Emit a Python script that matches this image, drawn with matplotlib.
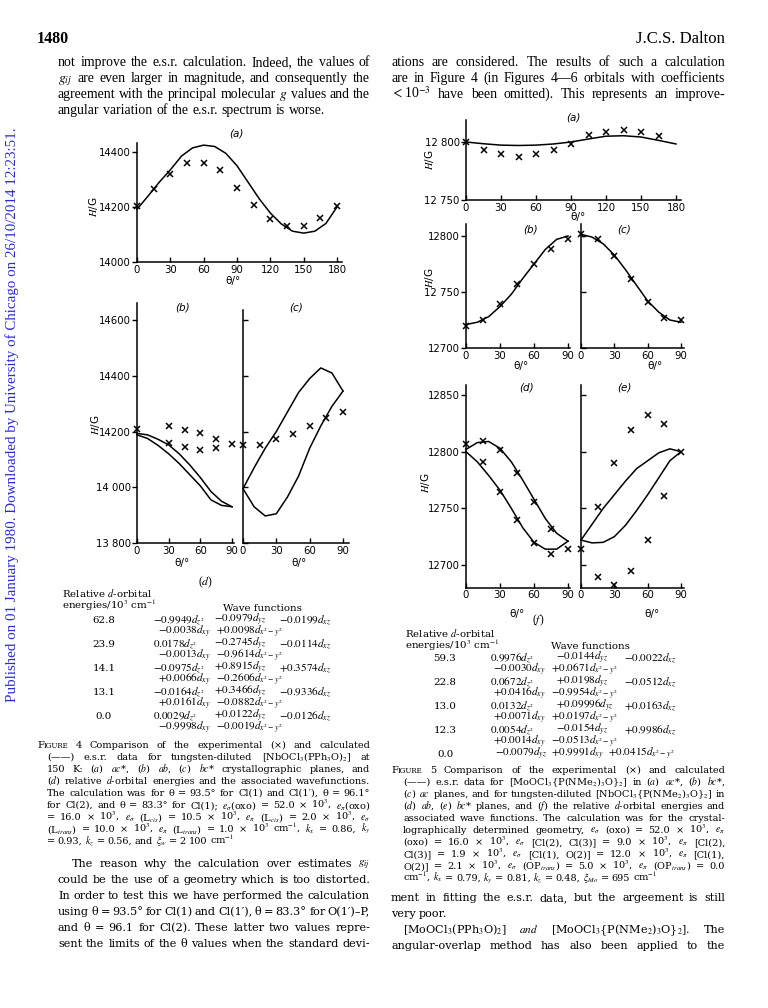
import matplotlib
matplotlib.use("Agg")
import matplotlib.pyplot as plt

W, H = 768, 1008
plt.rcParams['mathtext.fontset'] = 'stix'
SERIF = 'Liberation Serif'
SERIF2 = 'DejaVu Serif'
SANS = 'DejaVu Sans'

# ---------------- data ----------------
# Figure 4 (a)
theta_4a_exp = [0, 15, 30, 45, 60, 75, 90, 105, 120, 135, 150, 165, 180]
H_4a_exp = [14202, 14264, 14320, 14359, 14361, 14333, 14270, 14208, 14157, 14130, 14130, 14160, 14205]
theta_4a_calc = [0, 10, 20, 30, 40, 50, 60, 70, 80, 90, 100, 110, 120, 130, 140, 150, 160, 170, 180]
H_4a_calc = [14192, 14240, 14290, 14335, 14385, 14415, 14425, 14420, 14395, 14350, 14290, 14230, 14178,
             14138, 14112, 14105, 14112, 14140, 14200]
# Figure 4 (b)
theta_4b_exp = [0, 30, 30, 45, 45, 60, 60, 75, 75, 90]
H_4b_exp = [14210, 14218, 14159, 14206, 14146, 14194, 14135, 14172, 14142, 14155]
theta_4b_calc = [0, 10, 20, 30, 40, 50, 60, 70, 80, 90]
H_4b_calc1 = [14193, 14188, 14172, 14152, 14120, 14080, 14035, 13985, 13950, 13930]
H_4b_calc2 = [14188, 14175, 14150, 14120, 14085, 14045, 14005, 13955, 13935, 13930]
# Figure 4 (c)
theta_4c_exp = [0, 15, 30, 45, 60, 75, 90]
H_4c_exp = [14153, 14153, 14174, 14192, 14218, 14249, 14271]
theta_4c_calc = [0, 10, 20, 30, 40, 50, 60, 70, 80, 90]
H_4c_calc1 = [13995, 14070, 14140, 14200, 14270, 14340, 14390, 14428, 14410, 14345]
H_4c_calc2 = [13995, 13930, 13897, 13905, 13965, 14040, 14140, 14220, 14290, 14345]

# Figure 5 (a)
theta_5a_exp = [0, 15, 30, 45, 60, 75, 90, 105, 120, 135, 150, 165]
H_5a_exp = [12800, 12792.9, 12789.7, 12787, 12790, 12793, 12798, 12806, 12808.6, 12810, 12808.6, 12805]
theta_5a_calc = [0, 15, 30, 45, 60, 75, 90, 105, 120, 135, 150, 165, 180]
H_5a_calc = [12800, 12798.5, 12797.3, 12797, 12797.3, 12798.3, 12800, 12802.6, 12805, 12805.4, 12804.3,
             12801.4, 12798.3]
# Figure 5 (b)
theta_5b_exp = [0, 15, 30, 45, 60, 75, 90]
H_5b_exp = [12720, 12725, 12739, 12757, 12775, 12788, 12797]
theta_5b_calc = [0, 10, 20, 30, 40, 50, 60, 70, 80, 90]
H_5b_calc = [12721, 12723, 12728, 12737, 12748, 12762, 12775, 12788, 12797, 12800]
# Figure 5 (c)
theta_5c_exp = [0, 15, 30, 45, 60, 75, 90]
H_5c_exp = [12802, 12797, 12782.5, 12762, 12741, 12727, 12725]
theta_5c_calc = [0, 10, 20, 30, 40, 50, 60, 70, 80, 90]
H_5c_calc = [12801.5, 12799, 12793, 12783, 12770, 12756, 12742, 12732, 12725, 12723]
# Figure 5 (d)
theta_5d_exp = [0, 15, 15, 30, 30, 45, 45, 60, 60, 75, 75, 90]
H_5d_exp = [12806.7, 12809.6, 12790.7, 12801.5, 12764.4, 12781, 12739.7, 12755.7, 12719, 12731.5, 12709.6, 12714.3]
theta_5d_calc = [0, 10, 20, 30, 40, 50, 60, 70, 80, 90]
H_5d_calc1 = [12802, 12808, 12809, 12803, 12791, 12775, 12758, 12741, 12728, 12721]
H_5d_calc2 = [12800, 12791, 12779, 12766, 12750, 12733, 12720, 12714, 12714, 12721]
# Figure 5 (e)
theta_5e_exp = [0, 15, 15, 30, 30, 45, 45, 60, 60, 75, 75, 90]
H_5e_exp = [12714, 12751.6, 12689.5, 12790, 12682, 12819, 12695, 12832, 12722, 12824, 12760.7, 12799.4]
theta_5e_calc = [0, 10, 20, 30, 40, 50, 60, 70, 80, 90]
H_5e_calc1 = [12722, 12736, 12750, 12762, 12774, 12785, 12792, 12799, 12802.5, 12800]
H_5e_calc2 = [12722, 12719.5, 12720, 12725, 12735, 12748, 12762, 12777, 12792, 12800]

# tick labels
xt180 = [0, 30, 60, 90, 120, 150, 180]
xt90 = [0, 30, 60, 90]
yt_4a = [14000, 14200, 14400]
yl_4a = ["14000", "14200", "14400"]
yt_4b = [13800, 14000, 14200, 14400, 14600]
yl_4b = ["13 800", "14 000", "14200", "14400", "14600"]
yt_5a = [12750, 12800]
yl_5a = ["12 750", "12 800"]
yt_5b = [12700, 12750, 12800]
yl_5b = ["12700", "12 750", "12800"]
yt_5d = [12700, 12750, 12800, 12850]
yl_5d = ["12700", "12750", "12800", "12850"]

# d-orbital tables
energies_4 = ["62.8", "23.9", "14.1", "13.1", "0.0"]
wf_4 = [
    [[r"$-0.9949d_{z^2}$", r"$-0.0979d_{yz}$", r"$-0.0199d_{xz}$"], [r"$-0.0038d_{xy}$", r"$+0.0098d_{x^2-y^2}$"]],
    [[r"$0.0178d_{z^2}$", r"$-0.2745d_{yz}$", r"$-0.0114d_{xz}$"], [r"$-0.0013d_{xy}$", r"$-0.9614d_{x^2-y^2}$"]],
    [[r"$-0.0975d_{z^2}$", r"$+0.8915d_{yz}$", r"$+0.3574d_{xz}$"], [r"$+0.0066d_{xy}$", r"$-0.2606d_{x^2-y^2}$"]],
    [[r"$-0.0164d_{z^2}$", r"$+0.3466d_{yz}$", r"$-0.9336d_{xz}$"], [r"$+0.0161d_{xy}$", r"$-0.0882d_{x^2-y^2}$"]],
    [[r"$0.0029d_{z^2}$", r"$+0.0122d_{yz}$", r"$-0.0126d_{xz}$"], [r"$-0.9998d_{xy}$", r"$-0.0019d_{x^2-y^2}$"]],
]
energies_5 = ["59.3", "22.8", "13.0", "12.3", "0.0"]
wf_5 = [
    [[r"$0.9976d_{z^2}$", r"$-0.0144d_{yz}$", r"$-0.0022d_{xz}$"], [r"$-0.0030d_{xy}$", r"$+0.0671d_{x^2-y^2}$"]],
    [[r"$0.0672d_{z^2}$", r"$+0.0198d_{yz}$", r"$-0.0512d_{xz}$"], [r"$+0.0416d_{xy}$", r"$-0.9954d_{x^2-y^2}$"]],
    [[r"$0.0132d_{z^2}$", r"$+0.09996d_{yz}$", r"$+0.0163d_{xz}$"], [r"$+0.0071d_{xy}$", r"$+0.0197d_{x^2-y^2}$"]],
    [[r"$0.0054d_{z^2}$", r"$-0.0154d_{yz}$", r"$+0.9986d_{xz}$"], [r"$+0.0014d_{xy}$", r"$-0.0513d_{x^2-y^2}$"]],
    [[r"$-0.0079d_{yz}$", r"$+0.9991d_{xy}$", r"$+0.0415d_{x^2-y^2}$"], []],
]

# ---------------- figure ----------------
fig = plt.figure(figsize=(7.68, 10.08), dpi=100)
fig.patch.set_facecolor('white')
renderer = fig.canvas.get_renderer()


def T(x, y, s, size=9, ha='left', va='baseline', family=SERIF, **kw):
    return fig.text(x / W, 1 - y / H, s, fontsize=size, ha=ha, va=va, family=family, **kw)


def line(x0, x1, y, words, size, family=SERIF, just=True, sc=False, mingap=2.0, space=None):
    if isinstance(words, str):
        words = words.split(' ')
    parts = []
    for i, w in enumerate(words):
        if sc and i == 0:
            spec = [(w[0], 1.0), (w[1:], 0.74)]
        else:
            spec = [(w, 1.0)]
        objs = []
        for s, f in spec:
            t = fig.text(0, 1 - y / H, s, fontsize=size * f, family=family, ha='left', va='baseline')
            objs.append((t, f))
        parts.append(objs)

    def measure():
        return [[t.get_window_extent(renderer).width for t, f in objs] for objs in parts]

    widths = measure()
    n = len(words)
    total = sum(sum(w) for w in widths)
    avail = x1 - x0
    if total + (n - 1) * mingap > avail:
        k = (avail - (n - 1) * mingap) / total
        for objs in parts:
            for t, f in objs:
                t.set_fontsize(size * f * k)
        widths = measure()
        total = sum(sum(w) for w in widths)
    gap = space if space is not None else size * 100 / 72 * 0.27
    if just and n > 1:
        gap = max((avail - total) / (n - 1), mingap)
    x = x0
    for objs, ws in zip(parts, widths):
        for (t, f), wd in zip(objs, ws):
            t.set_x(x / W)
            x += wd
        x += gap


def make_ax(px0, px1, xv0, xv1, xlim, py0, py1, yv0, yv1, ylim):
    sx = (px1 - px0) / (xv1 - xv0)
    left = px0 + (xlim[0] - xv0) * sx
    right = px0 + (xlim[1] - xv0) * sx
    sy = (py1 - py0) / (yv1 - yv0)
    top = py0 + (ylim[1] - yv0) * sy
    bot = py0 + (ylim[0] - yv0) * sy
    ax = fig.add_axes([left / W, 1 - bot / H, (right - left) / W, (bot - top) / H])
    ax.set_xlim(*xlim)
    ax.set_ylim(*ylim)
    ax.patch.set_alpha(0)
    for s in ('top', 'right'):
        ax.spines[s].set_visible(False)
    for s in ('left', 'bottom'):
        ax.spines[s].set_linewidth(1.1)
    ax.tick_params(axis='x', direction='in', length=3.5, width=1, labelsize=7.3, pad=2)
    ax.tick_params(axis='y', direction='out', length=3.5, width=1, labelsize=7.3, pad=1)
    return ax


LW = 1.1
MK = dict(marker='x', ls='none', color='black', ms=4.2, mew=1.1)


def ticks(ax, xt, yt, yl, inner=False):
    ax.set_xticks(xt)
    ax.set_xticklabels([str(v) for v in xt], family=SANS)
    ax.set_yticks(yt)
    if inner:
        ax.set_yticklabels([])
        ax.tick_params(axis='y', direction='in')
    else:
        ax.set_yticklabels(yl, family=SANS)


# Figure 4 (a)
a = make_ax(137, 337, 0, 180, (0, 184.5), 152, 262, 14400, 14000, (14000, 14433))
a.plot(theta_4a_calc, H_4a_calc, color='black', lw=LW)
a.plot(theta_4a_exp, H_4a_exp, **MK)
ticks(a, xt180, yt_4a, yl_4a)

# Figure 4 (b)
b = make_ax(137, 232, 0, 90, (0, 92), 320, 543, 14600, 13800, (13800, 14661))
b.plot(theta_4b_calc, H_4b_calc1, color='black', lw=LW)
b.plot(theta_4b_calc, H_4b_calc2, color='black', lw=LW)
b.plot(theta_4b_exp, H_4b_exp, **MK)
ticks(b, xt90, yt_4b, yl_4b)

# Figure 4 (c)
c = make_ax(243, 343, 0, 90, (0, 95), 320, 543, 14600, 13800, (13800, 14636))
c.plot(theta_4c_calc, H_4c_calc1, color='black', lw=LW)
c.plot(theta_4c_calc, H_4c_calc2, color='black', lw=LW)
c.plot(theta_4c_exp, H_4c_exp, **MK)
ticks(c, xt90, yt_4b, yl_4b, inner=True)

# Figure 5 (a)
a5 = make_ax(466, 676, 0, 180, (0, 184), 142, 200, 12800, 12750, (12750, 12819))
a5.plot(theta_5a_calc, H_5a_calc, color='black', lw=LW)
a5.plot(theta_5a_exp, H_5a_exp, **MK)
ticks(a5, xt180, yt_5a, yl_5a)

# Figure 5 (b)
b5 = make_ax(466, 568, 0, 90, (0, 92), 236, 348, 12800, 12700, (12700, 12811))
b5.plot(theta_5b_calc, H_5b_calc, color='black', lw=LW)
b5.plot(theta_5b_exp, H_5b_exp, **MK)
ticks(b5, xt90, yt_5b, yl_5b)

# Figure 5 (c)
c5 = make_ax(581, 681, 0, 90, (0, 92.5), 236, 348, 12800, 12700, (12700, 12811))
c5.plot(theta_5c_calc, H_5c_calc, color='black', lw=LW)
c5.plot(theta_5c_exp, H_5c_exp, **MK)
ticks(c5, xt90, yt_5b, yl_5b, inner=True)

# Figure 5 (d)
d5 = make_ax(466, 568, 0, 90, (0, 92), 395, 565, 12850, 12700, (12680, 12859))
d5.plot(theta_5d_calc, H_5d_calc1, color='black', lw=LW)
d5.plot(theta_5d_calc, H_5d_calc2, color='black', lw=LW)
d5.plot(theta_5d_exp, H_5d_exp, **MK)
ticks(d5, xt90, yt_5d, yl_5d)

# Figure 5 (e)
e5 = make_ax(581, 681, 0, 90, (0, 92.5), 395, 565, 12850, 12700, (12680, 12859))
e5.plot(theta_5e_calc, H_5e_calc1, color='black', lw=LW)
e5.plot(theta_5e_calc, H_5e_calc2, color='black', lw=LW)
e5.plot(theta_5e_exp, H_5e_exp, **MK)
ticks(e5, xt90, yt_5d, yl_5d, inner=True)

for ax in (a, b, c, a5, b5, c5, d5, e5):
    for s in ax.spines.values():
        s.set_clip_on(False)
    for l in ax.lines:
        l.set_clip_on(False)

# panel labels and axis labels
PL = dict(size=7.5, family=SANS, style='italic', ha='center', va='center')
T(236, 133, "(a)", **PL)
T(183, 307, "(b)", **PL)
T(296, 307, "(c)", **PL)
T(573, 118, "(a)", **PL)
T(531, 229, "(b)", **PL)
T(624, 229, "(c)", **PL)
T(527, 387, "(d)", **PL)
T(624, 387, "(e)", **PL)
XL = dict(size=7.5, family=SANS, ha='center', va='center')
T(233, 281, "θ/°", **XL)
T(182, 563, "θ/°", **XL)
T(299, 563, "θ/°", **XL)
T(578, 217, "θ/°", **XL)
T(521, 366, "θ/°", **XL)
T(655, 366, "θ/°", **XL)
T(517, 614, "θ/°", **XL)
T(652, 614, "θ/°", **XL)
YL = dict(size=7.5, family=SANS, ha='center', va='center', rotation=90)
T(93, 207, r"$\mathit{H}$/G", **YL)
T(95, 425, r"$\mathit{H}$/G", **YL)
T(430, 160, r"$\mathit{H}$/G", **YL)
T(430, 278, r"$\mathit{H}$/G", **YL)
T(426, 483, r"$\mathit{H}$/G", **YL)

# ---------------- page text ----------------
T(37, 43, "1480", size=11.5, weight='bold')
T(725, 43, "J.C.S. Dalton", size=12, ha='right')
T(12, 415, "Published on 01 January 1980. Downloaded by University of Chicago on 26/10/2014 12:23:51.",
  size=10.8, ha='center', va='center', rotation=90, color='#2b2bd8')

BS = 9.9
left_top = ["not improve the e.s.r. calculation. Indeed, the values of",
            "$g_{ij}$ are even larger in magnitude, and consequently the",
            "agreement with the principal molecular $g$ values and the",
            "angular variation of the e.s.r. spectrum is worse."]
for i, s in enumerate(left_top):
    line(58, 370, 66 + 16 * i, s, BS, just=(i < 3))
right_top = ["ations are considered. The results of such a calculation",
             "are in Figure 4 (in Figures 4—6 orbitals with coefficients",
             "$<$10$^{-3}$ have been omitted). This represents an improve-"]
for i, s in enumerate(right_top):
    line(391, 725, 66 + 16 * i, s, BS)

# tables
TS = 7.4
MS = 8.0
T(206, 582, "($d$)", size=8.5, ha='center', va='center')
T(62, 597, "Relative $d$-orbital", size=TS, family=SERIF2)
T(62, 609, "energies/10$^3$ cm$^{-1}$", size=TS, family=SERIF2)
T(262, 611, "Wave functions", size=TS, ha='center', family=SERIF2)
for i, (en, rows) in enumerate(zip(energies_4, wf_4)):
    y = 623 + 24 * i
    T(104, y, en, size=TS, ha='center', family=SERIF2)
    for x, s in zip([153, 214, 279], rows[0]):
        T(x, y, s, size=MS)
    line(158, 360, y + 12, rows[1], MS, just=False, space=5)

T(538, 620, "($f$)", size=8.5, ha='center', va='center')
T(405, 637, "Relative $d$-orbital", size=TS, family=SERIF2)
T(405, 649, "energies/10$^3$ cm$^{-1}$", size=TS, family=SERIF2)
T(590, 649, "Wave functions", size=TS, ha='center', family=SERIF2)
for i, (en, rows) in enumerate(zip(energies_5, wf_5)):
    y = 661 + 24 * i
    T(445, y, en, size=TS, ha='center', family=SERIF2)
    if i < 4:
        for x, s in zip([490, 556, 624], rows[0]):
            T(x, y, s, size=MS)
        line(493, 725, y + 12, rows[1], MS, just=False, space=5)
    else:
        line(495, 725, y, rows[0], MS, just=False, space=4)

# captions
CS = 7.0
cap4 = ["FIGURE 4 Comparison of the experimental (×) and calculated",
        "(——) e.s.r. data for tungsten-diluted [NbOCl$_3$(PPh$_3$O)$_2$] at",
        "150 K: ($a$) $ac$*, ($b$) $ab$, ($c$) $bc$* crystallographic planes, and",
        "($d$) relative $d$-orbital energies and the associated wavefunctions.",
        "The calculation was for θ = 93.5° for Cl(1) and Cl(1′), θ = 96.1°",
        r"for Cl(2), and θ = 83.3° for Cl(1); $e_\sigma$(oxo) = 52.0 × 10$^3$, $e_\pi$(oxo)",
        r"= 16.0 × 10$^3$, $e_\sigma$ (L$_{cis}$) = 10.5 × 10$^3$, $e_\pi$ (L$_{cis}$) = 2.0 × 10$^3$, $e_\sigma$",
        r"(L$_{trans}$) = 10.0 × 10$^3$, $e_\pi$ (L$_{trans}$) = 1.0 × 10$^3$ cm$^{-1}$, $k_x$ = 0.86, $k_y$",
        r"= 0.93, $k_z$ = 0.56, and $\xi_w$ = 2 100 cm$^{-1}$"]
for i, s in enumerate(cap4):
    x0 = 37 if i == 0 else 47
    line(x0, 370, 748 + 12 * i, s, CS, family=SERIF2, just=(i < len(cap4) - 1), sc=(i == 0))

cap5 = ["FIGURE 5 Comparison of the experimental (×) and calculated",
        "(——) e.s.r. data for [MoOCl$_3${P(NMe$_2$)$_3$O}$_2$] in ($a$) $ac$*, ($b$) $bc$*,",
        "($c$) $ac$ planes, and for tungsten-diluted [NbOCl$_3${P(NMe$_2$)$_3$O}$_2$] in",
        "($d$) $ab$, ($e$) $bc$* planes, and ($f$) the relative $d$-orbital energies and",
        "associated wave functions. The calculation was for the crystal-",
        r"lographically determined geometry, $e_\sigma$ (oxo) = 52.0 × 10$^3$, $e_\pi$",
        r"(oxo) = 16.0 × 10$^3$, $e_\sigma$ [Cl(2), Cl(3)] = 9.0 × 10$^3$, $e_\pi$ [Cl(2),",
        r"Cl(3)] = 1.9 × 10$^3$, $e_\sigma$ [Cl(1), O(2)] = 12.0 × 10$^3$, $e_\pi$ [Cl(1),",
        r"O(2)] = 2.1 × 10$^3$, $e_\sigma$ (OP$_{trans}$) = 5.0 × 10$^3$, $e_\pi$ (OP$_{trans}$) = 0.0",
        r"cm$^{-1}$, $k_x$ = 0.79, $k_y$ = 0.81, $k_z$ = 0.48, $\xi_{Mo}$ = 695 cm$^{-1}$"]
for i, s in enumerate(cap5):
    x0 = 391 if i == 0 else 403
    line(x0, 725, 773 + 12 * i, s, CS, family=SERIF2, just=(i < len(cap5) - 1), sc=(i == 0))

BS2 = 8.1
left_bot = ["The reason why the calculation over estimates $g_{ij}$",
            "could be the use of a geometry which is too distorted.",
            "In order to test this we have performed the calculation",
            "using θ = 93.5° for Cl(1) and Cl(1′), θ = 83.3° for O(1′)–P,",
            "and θ = 96.1 for Cl(2). These latter two values repre-",
            "sent the limits of the θ values when the standard devi-"]
for i, s in enumerate(left_bot):
    line(72 if i == 0 else 58, 370, 867 + 16 * i, s, BS2, family=SERIF2)

right_bot = ["ment in fitting the e.s.r. data, but the argeement is still",
             "very poor.",
             "[MoOCl$_3$(PPh$_3$O)$_2$] $and$ [MoOCl$_3${P(NMe$_2$)$_3$O}$_2$]. The",
             "angular-overlap method has also been applied to the"]
for i, s in enumerate(right_bot):
    line(403 if i == 2 else 391, 725, 901 + 16 * i, s, BS2, family=SERIF2, just=(i != 1))

fig.savefig("out.png", dpi=100, facecolor='white')
